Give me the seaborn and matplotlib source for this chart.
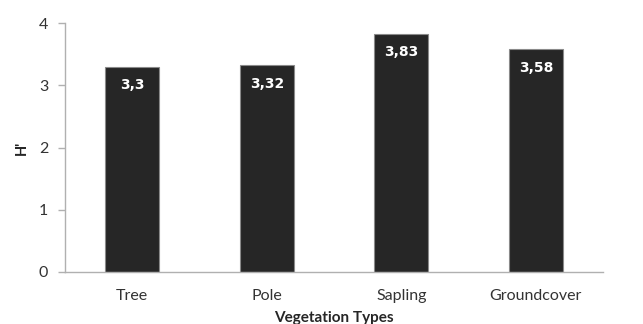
import matplotlib
matplotlib.use("Agg")
import matplotlib.pyplot as plt
import seaborn as sns
import pandas as pd

categories = ["Tree", "Pole", "Sapling", "Groundcover"]
values = [3.30, 3.32, 3.83, 3.58]
value_labels = ["3,3", "3,32", "3,83", "3,58"]
y_ticks = [0, 1, 2, 3, 4]

sns.set_style("white")
plt.rcParams["font.family"] = ["Lato", "DejaVu Sans"]

df = pd.DataFrame({"type": categories, "H": values})

fig = plt.figure(figsize=(6.43, 3.24), dpi=100)
ax = fig.add_axes([0.101, 0.1605, 0.837, 0.7685])

sns.barplot(data=df, x="type", y="H", color="#262626", width=0.40,
            edgecolor="#8a8a8a", linewidth=0.8, saturation=1, ax=ax)

for i, (v, lab) in enumerate(zip(values, value_labels)):
    ax.annotate(lab, (i, v), xytext=(0, -13.5), textcoords="offset points",
                ha="center", va="center", color="white", fontsize=10,
                fontweight="bold", family="DejaVu Sans")

ax.set_xlim(-0.5, 3.5)
ax.set_ylim(0, 4)
ax.set_yticks(y_ticks)
ax.set_yticklabels([str(t) for t in y_ticks], fontsize=11.5, color="#333333")

# category separators as tick marks on the x axis
ax.set_xticks([-0.5, 0.5, 1.5, 2.5], minor=False)
ax.set_xticklabels([])
ax.set_xticks(range(len(categories)), minor=True)
ax.set_xticklabels(categories, minor=True, fontsize=11.5, color="#333333")
ax.tick_params(axis="x", which="minor", length=0, pad=12)
ax.tick_params(axis="x", which="major", length=5, color="#b0b0b0", width=1)
ax.tick_params(axis="y", length=5, color="#b0b0b0", width=1, pad=7, left=True)

for s in ["top", "right"]:
    ax.spines[s].set_visible(False)
for s in ["left", "bottom"]:
    ax.spines[s].set_color("#b0b0b0")
    ax.spines[s].set_linewidth(1)

ax.set_xlabel("Vegetation Types", fontsize=11, fontweight="bold", labelpad=6)
ax.set_ylabel("H'", fontsize=10.5, fontweight="bold", labelpad=7)

fig.savefig("out.png", dpi=100)
